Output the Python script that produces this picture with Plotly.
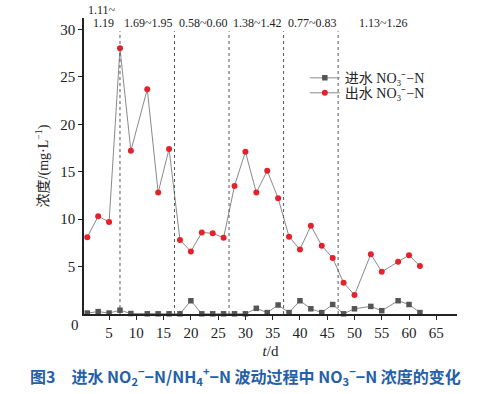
import plotly.graph_objects as go

# data
days = [1, 3, 5, 7, 9, 12, 14, 16, 18, 20, 22, 24, 26, 28, 30, 32, 34, 36, 38, 40,
        42, 44, 46, 48, 50, 53, 55, 58, 60, 62]
influent = [0.1, 0.25, 0.1, 0.4, 0.05, 0.02, 0.02, 0.02, 0.02, 1.4, 0.02, 0.02, 0.02, 0.02, 0.02,
            0.6, 0.15, 0.95, 0.15, 1.4, 0.55, 0.15, 1.0, 0.02, 0.55, 0.8, 0.35, 1.4, 1.0, 0.15]
effluent = [8.1, 10.3, 9.7, 28.0, 17.2, 23.7, 12.8, 17.4, 7.8, 6.6, 8.6, 8.5, 8.05, 13.5, 17.1,
            12.8, 15.1, 12.2, 8.15, 6.8, 9.3, 7.2, 5.9, 3.3, 2.0, 6.3, 4.45, 5.5, 6.2, 5.05]
phase_bounds = [7, 17, 27, 37, 47]
phase_labels = ["1.69~1.95", "0.58~0.60", "1.38~1.42", "0.77~0.83", "1.13~1.26"]
phase_label_x = [12.2, 22.4, 32.2, 42.3, 55.4]
first_label = ["1.11~", "1.19"]
x_ticks = [5, 10, 15, 20, 25, 30, 35, 40, 45, 50, 55, 60, 65]
y_ticks = [5, 10, 15, 20, 25, 30]

SERIF = "Liberation Serif, Noto Sans CJK SC"

fig = go.Figure()
fig.add_trace(go.Scatter(
    x=days, y=influent, mode="lines+markers",
    name="进水 NO₃⁻−N", legend="legend",
    line=dict(color="#8a8a8a", width=1),
    marker=dict(symbol="square", size=5.5, color="#555555"),
    cliponaxis=False,
))
fig.add_trace(go.Scatter(
    x=days, y=effluent, mode="lines+markers",
    name="出水 NO₃⁻−N", legend="legend2",
    line=dict(color="#8a8a8a", width=1),
    marker=dict(symbol="circle", size=6, color="#e3222b"),
    cliponaxis=False,
))

for b in phase_bounds:
    fig.add_shape(type="line", x0=b, x1=b, y0=0, y1=29.8, xref="x", yref="y",
                  line=dict(color="#555555", width=1, dash="dot"))

for lx, lt in zip(phase_label_x, phase_labels):
    fig.add_annotation(x=lx, y=0.983, xref="x", yref="paper", text=lt, showarrow=False,
                       font=dict(family=SERIF, size=12, color="#222"), yanchor="middle")
fig.add_annotation(x=3.7, y=1.026, xref="x", yref="paper", text=first_label[0], showarrow=False,
                   font=dict(family=SERIF, size=12, color="#222"), yanchor="middle")
fig.add_annotation(x=3.9, y=0.983, xref="x", yref="paper", text=first_label[1], showarrow=False,
                   font=dict(family=SERIF, size=12, color="#222"), yanchor="middle")

# origin label
fig.add_annotation(x=-0.008, y=-0.005, xref="paper", yref="paper", text="0", showarrow=False,
                   font=dict(family=SERIF, size=15, color="#222"), xanchor="right", yanchor="top")

# caption
fig.add_annotation(
    x=-0.15, y=-0.2106, xref="paper", yref="paper", xanchor="left", yanchor="middle",
    text="<b>图3　进水 NO<sub>2</sub><sup>−</sup>−N/NH<sub>4</sub><sup>+</sup>−N 波动过程中 NO<sub>3</sub><sup>−</sup>−N 浓度的变化</b>",
    showarrow=False,
    font=dict(family="Noto Sans CJK SC", size=16, color="#2460aa"),
)

fig.update_xaxes(
    range=[0.4, 68.8], tickvals=x_ticks, showline=True, linecolor="#222", linewidth=1.5,
    ticks="outside", ticklen=4, tickcolor="#222", showgrid=False, zeroline=False,
    automargin=False,
    tickfont=dict(family=SERIF, size=15, color="#222"),
    title=dict(text="<i>t</i>/d", font=dict(family=SERIF, size=15, color="#222"), standoff=6),
)
fig.update_yaxes(
    range=[0, 31.2], tickvals=y_ticks, showline=True, linecolor="#222", linewidth=1.5,
    ticks="outside", ticklen=4, tickcolor="#222", showgrid=False, zeroline=False,
    automargin=False,
    tickfont=dict(family=SERIF, size=15, color="#222"),
    title=dict(text="浓度/(mg·L<sup>−1</sup>)", font=dict(family=SERIF, size=14, color="#222"), standoff=8),
)

leg_common = dict(xanchor="left", yanchor="middle", bgcolor="rgba(0,0,0,0)",
                  font=dict(family=SERIF, size=14, color="#222"), itemwidth=30)
fig.update_layout(
    width=494, height=394,
    margin=dict(l=84, r=37, t=18, b=80),
    paper_bgcolor="white", plot_bgcolor="white",
    showlegend=True,
    legend=dict(x=0.592, y=(314.3 - 78.3) / 296.3, **leg_common),
    legend2=dict(x=0.592, y=(314.3 - 93.3) / 296.3, **leg_common),
)

fig.write_html("out.html", config={"displayModeBar": False},
               post_script="document.body.style.margin='0';")
